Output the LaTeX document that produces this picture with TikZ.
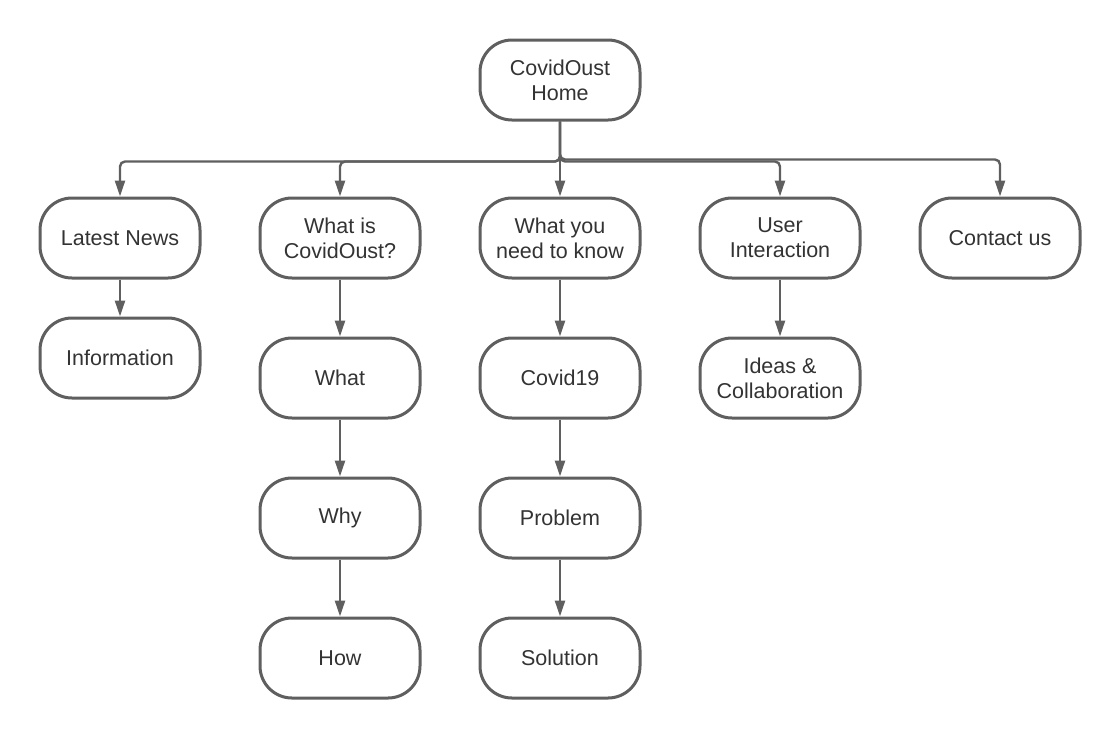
\documentclass[tikz,border=0pt]{standalone}
\usepackage{fontspec}
\setmainfont{Liberation Sans}
\usetikzlibrary{positioning,arrows.meta}
\definecolor{lineGray}{HTML}{5F5F5F}
\definecolor{textGray}{HTML}{333333}

\begin{document}
\begin{tikzpicture}[
  x=1pt,y=-1pt,
  font=\fontsize{21.5}{25}\selectfont,
  page/.style={draw=lineGray,line width=3pt,rounded corners=32pt,fill=white,
    minimum width=160pt,minimum height=80pt,text=textGray,align=center,inner sep=2pt},
  link/.style={-{Triangle[length=16pt,width=10pt]},draw=lineGray,line width=2.4pt,rounded corners=5pt},
  every node/.style={align=center}]

  \useasboundingbox (0,0) rectangle (1120,740);

  % home page
  \node[page] (home) at (560,80) {CovidOust\\Home};

  % first level
  \node[page] (news) at (120,238) {Latest News};
  \node[page] (about) at (340,238) {What is\\CovidOust?};
  \node[page] (know) at (560,238) {What you\\need to know};
  \node[page] (user) at (780,238) {User\\Interaction};
  \node[page] (contact) at (1000,238) {Contact us};

  % second level and below
  \node[page, below=37pt of news] (info) {Information};
  \node[page, below=57pt of about] (what) {What};
  \node[page, below=57pt of what] (why) {Why};
  \node[page, below=57pt of why] (how) {How};
  \node[page, below=57pt of know] (covid) {Covid19};
  \node[page, below=57pt of covid] (problem) {Problem};
  \node[page, below=57pt of problem] (solution) {Solution};
  \node[page, below=57pt of user] (ideas) {Ideas \&\\Collaboration};

  % home to first level
  \draw[link] (home.south) -- ++(0,40) -| (news.north);
  \draw[link] (home.south) -- ++(0,40) -| (about.north);
  \draw[link] (home.south) -- (know.north);
  \draw[link] (home.south) -- ++(0,40) -| (user.north);
  \draw[link] (home.south) -- ++(0,38) -| (contact.north);

  % columns
  \draw[link] (news) -- (info);
  \draw[link] (about) -- (what);
  \draw[link] (what) -- (why);
  \draw[link] (why) -- (how);
  \draw[link] (know) -- (covid);
  \draw[link] (covid) -- (problem);
  \draw[link] (problem) -- (solution);
  \draw[link] (user) -- (ideas);

\end{tikzpicture}
\end{document}
